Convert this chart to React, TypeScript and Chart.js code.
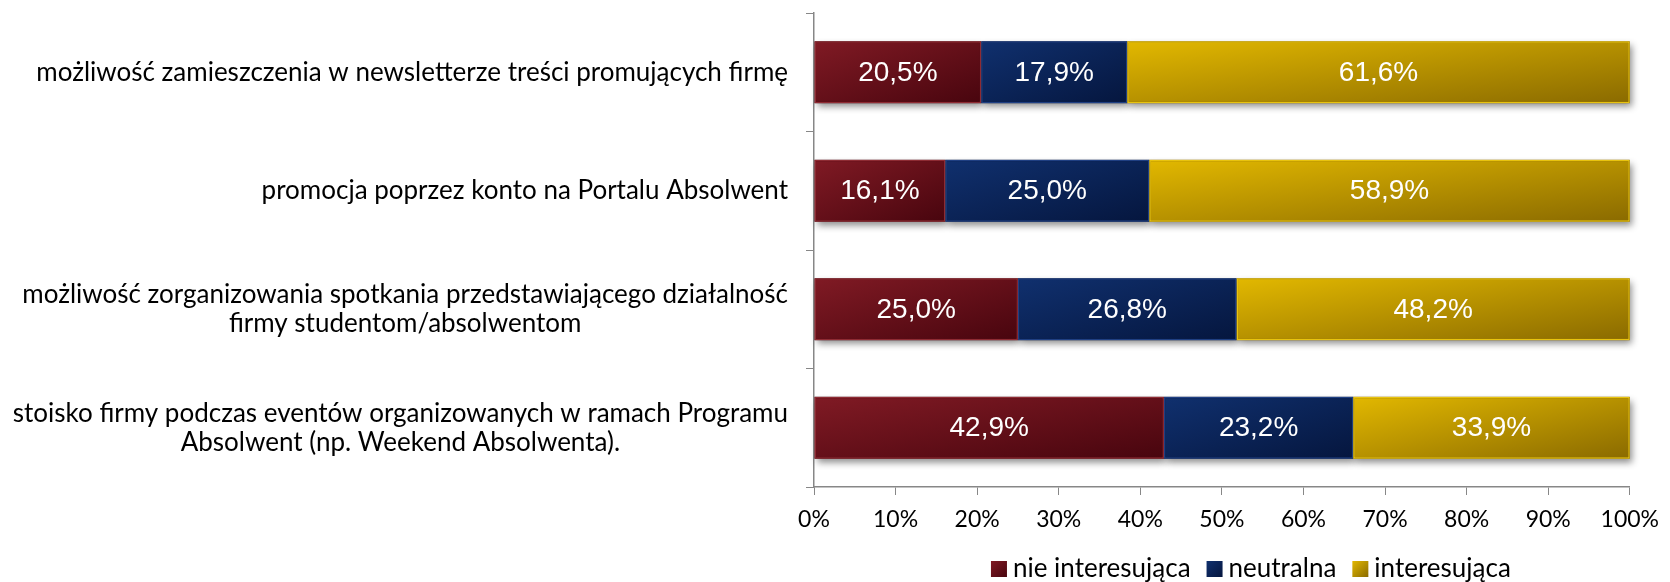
import React, { useEffect, useRef } from 'react';
import { Chart, registerables } from 'chart.js';

Chart.register(...registerables);

// ---- data ----
const categories: (string | string[])[] = [
  'możliwość zamieszczenia w newsletterze treści promujących firmę',
  'promocja poprzez konto na Portalu Absolwent',
  ['możliwość zorganizowania spotkania przedstawiającego działalność', 'firmy studentom/absolwentom'],
  ['stoisko firmy podczas eventów organizowanych w ramach Programu', 'Absolwent (np. Weekend Absolwenta).'],
];
const seriesNames = ['nie interesująca', 'neutralna', 'interesująca'];
const nieInteresujaca = [20.5, 16.1, 25.0, 42.9];
const neutralna = [17.9, 25.0, 26.8, 23.2];
const interesujaca = [61.6, 58.9, 48.2, 33.9];
const xTickValues = [0, 10, 20, 30, 40, 50, 60, 70, 80, 90, 100];

// ---- styles ----
const palette = [
  { base: '#6f141c', light: '#801a24', dark: '#48050e', border: '#8e2b33' },
  { base: '#0b2760', light: '#10306e', dark: '#05163e', border: '#1f3f82' },
  { base: '#c9a200', light: '#e2b800', dark: '#8a6a00', border: '#e8c30f' },
];
const TEXT_FONT = 'Lato, "Open Sans", sans-serif';
const LABEL_FONT = '"Liberation Sans", Arial, sans-serif';
const AXIS_COLOR = '#878787';

const fmt = (v: number) => v.toFixed(1).replace('.', ',') + '%';

const decorPlugin = {
  id: 'decor',
  beforeDatasetsDraw(chart: any) {
    const ctx = chart.ctx as CanvasRenderingContext2D;
    chart.data.datasets.forEach((_ds: any, di: number) => {
      const meta = chart.getDatasetMeta(di);
      const pal = palette[di];
      meta.data.forEach((el: any) => {
        const { x, y, base, height } = el.getProps(['x', 'y', 'base', 'height'], true);
        const left = Math.min(x, base);
        const right = Math.max(x, base);
        const top = y - height / 2;
        const w = right - left;
        const h = height;
        const k = (2 * w * h) / (w * w + h * h);
        const g = ctx.createLinearGradient(left, top, left + h * k, top + w * k);
        g.addColorStop(0, pal.light);
        g.addColorStop(1, pal.dark);
        el.options = Object.assign({}, el.options, { backgroundColor: g });
        ctx.save();
        ctx.shadowColor = 'rgba(0,0,0,0.45)';
        ctx.shadowBlur = 7;
        ctx.shadowOffsetX = 2;
        ctx.shadowOffsetY = 4;
        ctx.fillStyle = pal.dark;
        ctx.fillRect(left, top, w, h);
        ctx.restore();
      });
    });
  },
  afterDatasetsDraw(chart: any) {
    const ctx = chart.ctx as CanvasRenderingContext2D;
    ctx.save();
    ctx.font = `28px ${LABEL_FONT}`;
    ctx.fillStyle = '#ffffff';
    ctx.textAlign = 'center';
    ctx.textBaseline = 'middle';
    chart.data.datasets.forEach((ds: any, di: number) => {
      const meta = chart.getDatasetMeta(di);
      meta.data.forEach((el: any, i: number) => {
        const { x, y, base } = el.getProps(['x', 'y', 'base'], true);
        ctx.fillText(fmt(ds.data[i]), (x + base) / 2, y + 1);
      });
    });
    ctx.restore();
  },
  afterDraw(chart: any) {
    const ctx = chart.ctx as CanvasRenderingContext2D;
    const yScale = chart.scales.y;
    ctx.save();
    ctx.font = `26px ${TEXT_FONT}`;
    ctx.fillStyle = '#000000';
    ctx.textAlign = 'center';
    ctx.textBaseline = 'middle';
    categories.forEach((c, i) => {
      const lines = Array.isArray(c) ? c : [c];
      const yc = yScale.getPixelForValue(i);
      const w = Math.max(...lines.map((l) => ctx.measureText(l).width));
      const cx = yScale.right - 26 - w / 2;
      const lh = 29;
      lines.forEach((l, j) => ctx.fillText(l, cx, yc + (j - (lines.length - 1) / 2) * lh));
    });

    // legend
    const sq = 16;
    const gapSq = 6;
    const gapItems = 16;
    ctx.font = `26px ${TEXT_FONT}`;
    const widths = seriesNames.map((n) => ctx.measureText(n).width);
    const total = widths.reduce((a, b) => a + b, 0) + seriesNames.length * (sq + gapSq) + gapItems * (seriesNames.length - 1);
    const ca = chart.chartArea;
    const centerX = (ca.left + ca.right) / 2 + 29;
    let lx = centerX - total / 2;
    const ly = 569;
    ctx.textAlign = 'left';
    seriesNames.forEach((n, i) => {
      const pal = palette[i];
      const g = ctx.createLinearGradient(lx, ly - sq / 2, lx + sq, ly + sq / 2);
      g.addColorStop(0, pal.light);
      g.addColorStop(1, pal.dark);
      ctx.fillStyle = g;
      ctx.fillRect(lx, ly - sq / 2, sq, sq);
      ctx.fillStyle = '#000000';
      ctx.fillText(n, lx + sq + gapSq, ly);
      lx += sq + gapSq + widths[i] + gapItems;
    });
    ctx.restore();
  },
};

export default function App() {
  const canvasRef = useRef<HTMLCanvasElement | null>(null);

  useEffect(() => {
    const canvas = canvasRef.current;
    if (!canvas) return;
    const series = [nieInteresujaca, neutralna, interesujaca];
    const chart = new Chart(canvas, {
      type: 'bar',
      data: {
        labels: categories.map((c) => (Array.isArray(c) ? c.join(' ') : c)),
        datasets: seriesNames.map((name, i) => ({
          label: name,
          data: series[i],
          backgroundColor: palette[i].base,
          borderColor: palette[i].border,
          borderWidth: 1.5,
          borderSkipped: false,
          barPercentage: 0.523,
          categoryPercentage: 1,
        })),
      },
      options: {
        indexAxis: 'y',
        responsive: false,
        animation: false,
        events: [],
        layout: { padding: { top: 13, right: 33, left: 0, bottom: 0 } },
        plugins: {
          legend: { display: false },
          tooltip: { enabled: false },
          title: { display: false },
        },
        scales: {
          x: {
            stacked: true,
            min: 0,
            max: 100,
            afterBuildTicks: (scale: any) => {
              scale.ticks = xTickValues.map((v) => ({ value: v }));
            },
            ticks: {
              callback: (v: any) => `${v}%`,
              font: { family: TEXT_FONT, size: 23 },
              color: '#000000',
              padding: 11,
              maxRotation: 0,
            },
            grid: {
              display: true,
              drawOnChartArea: false,
              drawTicks: true,
              tickLength: 8,
              color: AXIS_COLOR,
            },
            border: { display: true, color: AXIS_COLOR, width: 1.5 },
            afterFit: (scale: any) => {
              scale.height = 95;
            },
          },
          y: {
            stacked: true,
            ticks: { display: false },
            grid: {
              display: true,
              drawOnChartArea: false,
              drawTicks: true,
              tickLength: 8,
              color: AXIS_COLOR,
              offset: true,
            },
            border: { display: true, color: AXIS_COLOR, width: 1.5 },
            afterFit: (scale: any) => {
              scale.width = 814;
            },
          },
        },
      },
      plugins: [decorPlugin],
    });
    return () => chart.destroy();
  }, []);

  return (
    <div style={{ position: 'fixed', left: 0, top: 0, width: 1670, height: 582, background: '#ffffff' }}>
      <canvas ref={canvasRef} width={1670} height={582} style={{ display: 'block' }} />
    </div>
  );
}
